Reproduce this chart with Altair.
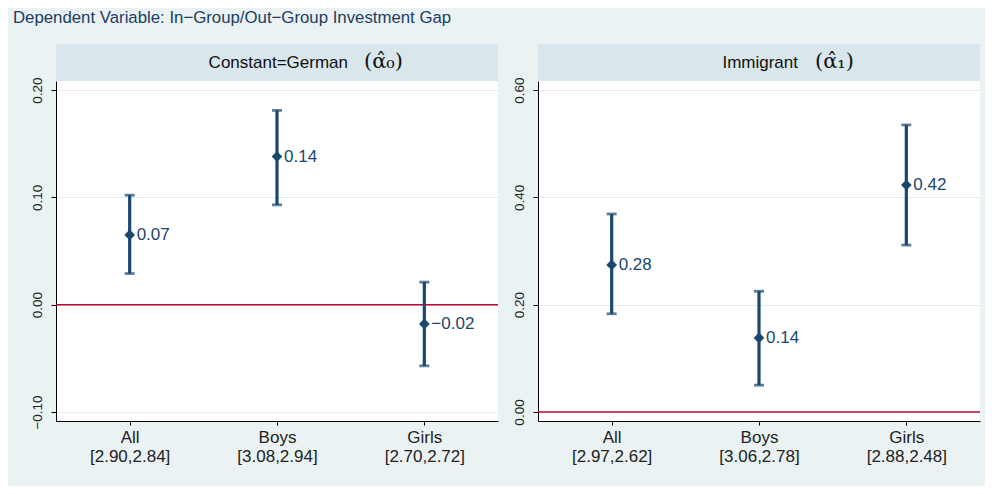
import json
import altair as alt
import pandas as pd

groups = ["All", "Boys", "Girls"]
positions = [1, 2, 3]

german_means = ["[2.90,2.84]", "[3.08,2.94]", "[2.70,2.72]"]
german_est = [0.065, 0.138, -0.018]
german_lo = [0.029, 0.093, -0.057]
german_hi = [0.102, 0.181, 0.021]
german_lbl = ["0.07", "0.14", "\u22120.02"]

immig_means = ["[2.97,2.62]", "[3.06,2.78]", "[2.88,2.48]"]
immig_est = [0.274, 0.138, 0.423]
immig_lo = [0.183, 0.050, 0.311]
immig_hi = [0.369, 0.225, 0.535]
immig_lbl = ["0.28", "0.14", "0.42"]

german_ticks = [-0.10, 0.00, 0.10, 0.20]
immig_ticks = [0.00, 0.20, 0.40, 0.60]

TITLE = "Dependent Variable: In\u2212Group/Out\u2212Group Investment Gap"

NAVY = "#1a476f"
RED = "#c10534"
BG = "#eaf2f3"
STRIP = "#d9e6eb"
SANS = "Liberation Sans"
SERIF = "DejaVu Serif"

W = 442
H = 340
STRIP_H = 37


def panel(est, lo, hi, lbl, means, ydom, yticks, head, sym, head_x, sym_x):
    df = pd.DataFrame({"pos": positions, "group": groups, "means": means,
                       "est": est, "lo": lo, "hi": hi, "lbl": lbl})
    expr = " : ".join(
        f"datum.value == {p} ? {json.dumps([g, m])}"
        for p, g, m in zip(positions, groups, means)
    ) + " : ''"
    xscale = alt.Scale(domain=[0.5, 3.5], nice=False, zero=False)
    yscale = alt.Scale(domain=ydom, nice=False, zero=False)
    xaxis = alt.Axis(values=positions, labelExpr=expr, grid=False, title=None,
                     labelFontSize=17, labelFont=SANS, labelColor="#222222",
                     labelLineHeight=19, tickSize=4, tickColor="#000000",
                     domainColor="#000000", domainWidth=1, labelPadding=4)
    yaxis = alt.Axis(values=yticks, format=".2f", title=None, labelAngle=-90,
                     labelFontSize=13.5, labelFont=SANS, labelColor="#222222",
                     tickSize=5, tickColor="#000000", domainColor="#000000",
                     domainWidth=1, labelPadding=7, grid=True,
                     gridColor="#e3edf0", gridWidth=1)
    base = alt.Chart(df)
    x = alt.X("pos:Q", scale=xscale, axis=xaxis)
    zero = base.mark_rule(color=RED, strokeWidth=1.5).encode(
        y=alt.Y("z:Q", scale=yscale, axis=yaxis)
    ).transform_calculate(z="0").transform_filter("datum.pos == 1")
    bars = base.mark_rule(color=NAVY, strokeWidth=3.2).encode(
        x=x, y=alt.Y("lo:Q", scale=yscale), y2="hi:Q")
    cap_lo = base.mark_tick(color=NAVY, orient="horizontal", size=10,
                            thickness=2.8).encode(x=x, y=alt.Y("lo:Q", scale=yscale))
    cap_hi = base.mark_tick(color=NAVY, orient="horizontal", size=10,
                            thickness=2.8).encode(x=x, y=alt.Y("hi:Q", scale=yscale))
    pts = base.mark_point(shape="diamond", filled=True, opacity=1, size=115,
                          color=NAVY).encode(x=x, y=alt.Y("est:Q", scale=yscale))
    txt = base.mark_text(align="left", baseline="middle", dx=7, fontSize=17,
                         font=SANS, color=NAVY).encode(
        x=x, y=alt.Y("est:Q", scale=yscale), text="lbl:N")
    hdf = pd.DataFrame({"head": [head], "sym": [sym]})
    strip = alt.Chart(hdf).mark_rect(color=STRIP).encode(
        x=alt.value(0), x2=alt.value(W), y=alt.value(-STRIP_H), y2=alt.value(0))
    htxt = alt.Chart(hdf).mark_text(align="right", baseline="middle", fontSize=17,
                                    font=SANS, color="#111111").encode(
        x=alt.value(head_x), y=alt.value(-STRIP_H / 2), text="head:N")
    stxt = alt.Chart(hdf).mark_text(align="left", baseline="middle", fontSize=21,
                                    font=SERIF, color="#111111").encode(
        x=alt.value(sym_x), y=alt.value(-STRIP_H / 2 - 1), text="sym:N")
    return alt.layer(zero, bars, cap_lo, cap_hi, pts, txt, strip, htxt, stxt).properties(
        width=W, height=H)


left = panel(german_est, german_lo, german_hi, german_lbl, german_means,
             [-0.1084, 0.2084], german_ticks, "Constant=German",
             "(\u03b1\u0302\u2080)", 292, 308)
right = panel(immig_est, immig_lo, immig_hi, immig_lbl, immig_means,
              [-0.0168, 0.6168], immig_ticks, "Immigrant",
              "(\u03b1\u0302\u2081)", 260, 277)

chart = alt.hconcat(left, right, spacing=40, bounds="flush").properties(
    title=alt.TitleParams(TITLE, anchor="start", fontSize=16.8, font=SANS,
                          fontWeight="normal", color="#1c3d63", offset=17, dx=-17),
    padding={"left": 4, "top": 2, "right": 4, "bottom": 22},
    background=BG,
).configure_view(fill="white", strokeWidth=0)

chart.save("out.html", embed_options={"renderer": "svg", "actions": False})
